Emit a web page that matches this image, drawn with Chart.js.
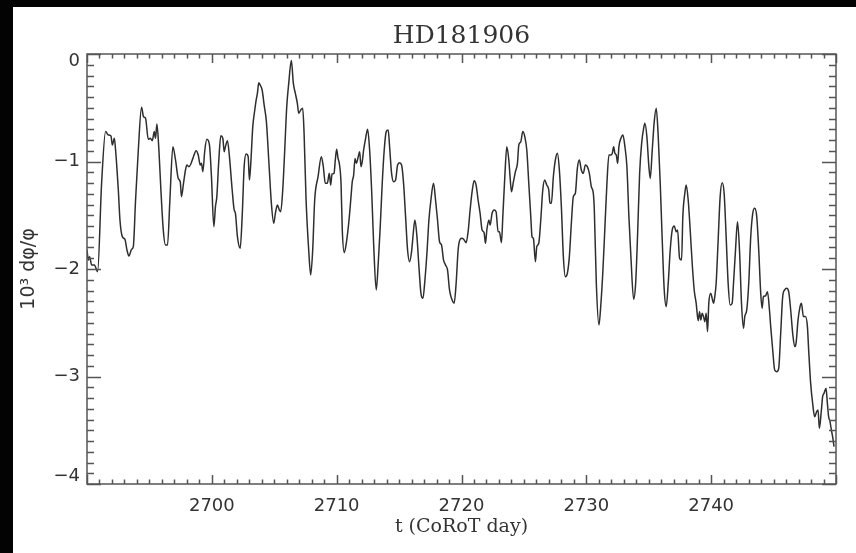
<!DOCTYPE html>
<html>
<head>
<meta charset="utf-8">
<script src="https://cdn.jsdelivr.net/npm/chart.js@4.4.1/dist/chart.umd.min.js"></script>
<style>
  html, body { margin: 0; padding: 0; background: #000; }
  #c { display: block; }
</style>
</head>
<body>
<canvas id="c" width="856" height="553"></canvas>
<script>
// ---- data ----
const days = [
2690.00,2690.11,2690.21,2690.37,2690.59,2690.85,2691.17,2691.49,2691.71,2691.92,
2692.03,2692.19,2692.29,2692.37,2692.51,2692.64,2692.83,2693.04,2693.20,2693.36,
2693.57,2693.71,2693.89,2694.11,2694.37,2694.53,2694.69,2694.91,2695.07,2695.23,
2695.39,2695.49,2695.60,2695.76,2695.92,2696.11,2696.29,2696.45,2696.64,2696.88,
2697.09,2697.31,2697.47,2697.57,2697.73,2697.89,2698.00,2698.16,2698.32,2698.48,
2698.75,2698.91,2699.07,2699.17,2699.28,2699.44,2699.60,2699.81,2699.97,2700.16,
2700.29,2700.40,2700.56,2700.72,2700.88,2700.99,2701.09,2701.25,2701.41,2701.63,
2701.79,2701.89,2702.05,2702.27,2702.43,2702.59,2702.75,2702.91,2703.01,2703.12,
2703.28,2703.44,2703.55,2703.65,2703.76,2703.87,2704.03,2704.19,2704.37,2704.56,
2704.77,2704.96,2705.09,2705.25,2705.41,2705.52,2705.68,2705.84,2706.00,2706.16,
2706.37,2706.53,2706.69,2706.85,2706.96,2707.12,2707.28,2707.39,2707.55,2707.76,
2707.92,2708.08,2708.24,2708.51,2708.77,2708.93,2709.09,2709.25,2709.41,2709.52,
2709.63,2709.79,2709.89,2710.00,2710.11,2710.21,
2710.35,2710.45,2710.61,2710.77,2710.99,2711.15,2711.25,2711.36,2711.47,2711.57,
2711.73,2711.84,2711.95,2712.05,2712.16,2712.32,2712.48,2712.64,2712.80,2712.96,
2713.17,2713.33,2713.49,2713.65,2713.81,2713.97,2714.13,2714.24,2714.40,2714.56,
2714.72,2714.88,2715.04,2715.20,2715.36,2715.52,2715.68,2715.84,2716.00,2716.16,
2716.27,2716.43,2716.59,2716.75,2716.91,2717.07,2717.23,2717.39,2717.55,2717.76,
2717.92,2718.08,2718.24,2718.40,2718.56,2718.72,2718.88,2719.04,2719.20,2719.41,
2719.57,2719.73,2719.89,2720.05,2720.21,2720.37,2720.53,2720.69,2720.85,2721.01,
2721.17,2721.33,2721.49,2721.65,2721.81,2721.92,2722.03,2722.19,2722.29,2722.45,
2722.61,2722.77,2722.93,2723.04,2723.20,2723.31,2723.47,2723.63,2723.79,2723.89,
2724.00,2724.16,2724.32,2724.48,2724.59,2724.75,2724.91,2725.07,2725.23,2725.39,
2725.55,2725.65,2725.76,2725.92,2726.03,2726.19,2726.35,2726.51,2726.67,2726.83,
2726.99,2727.09,2727.20,2727.36,2727.52,2727.68,2727.84,2728.00,2728.16,2728.32,
2728.48,2728.64,2728.80,2728.96,2729.12,2729.28,2729.44,2729.60,2729.76,2729.92,
2730.08,2730.24,2730.40,2730.56,
2730.64,2730.80,2731.01,2731.17,2731.33,2731.49,2731.65,2731.81,2731.97,2732.08,
2732.19,2732.29,2732.40,2732.51,2732.61,2732.77,2732.93,2733.09,2733.25,2733.41,
2733.57,2733.79,2733.95,2734.11,2734.27,2734.43,2734.59,2734.69,2734.85,2735.01,
2735.12,2735.28,2735.44,2735.60,2735.76,2735.92,2736.08,2736.24,2736.40,2736.56,
2736.72,2736.88,2737.04,2737.20,2737.31,2737.47,2737.63,2737.73,2737.89,2738.00,
2738.16,2738.32,2738.48,2738.64,2738.80,2738.96,2739.07,2739.17,2739.28,2739.39,
2739.49,2739.60,2739.71,2739.81,2739.97,2740.08,2740.19,2740.29,2740.40,2740.56,
2740.72,2740.88,2741.04,2741.20,2741.36,2741.52,2741.68,2741.79,2741.95,2742.11,
2742.27,2742.43,2742.59,2742.69,2742.85,2743.01,2743.17,2743.33,2743.49,2743.65,
2743.81,2743.97,2744.08,2744.19,2744.35,2744.51,2744.67,2744.77,2744.93,2745.09,
2745.25,2745.41,2745.57,2745.73,2745.89,2746.05,2746.21,2746.37,2746.53,2746.69,
2746.80,2746.96,2747.12,2747.23,2747.39,2747.55,2747.71,2747.81,2747.97,2748.13,
2748.29,2748.45,2748.56,2748.67,2748.83,2748.93,2749.04,2749.20,2749.31,2749.41,
2749.52,2749.63,2749.73,2749.84
];
const dphi = [
-1.823,-1.916,-1.885,-1.963,-1.963,-2.025,-1.203,-0.722,-0.753,-0.763,
-0.847,-0.784,-0.893,-1.017,-1.265,-1.544,-1.699,-1.724,-1.823,-1.879,
-1.817,-1.792,-1.358,-0.893,-0.496,-0.583,-0.598,-0.794,-0.784,-0.806,
-0.722,-0.784,-0.651,-0.893,-1.265,-1.637,-1.777,-1.777,-1.358,-0.862,
-0.986,-1.157,-1.188,-1.327,-1.203,-1.079,-1.033,-1.048,-1.023,-0.971,
-0.899,-0.940,-1.033,-1.017,-1.095,-0.893,-0.794,-0.847,-1.141,-1.606,
-1.420,-1.327,-0.986,-0.760,-0.784,-0.909,-0.862,-0.806,-0.955,-1.265,
-1.451,-1.482,-1.699,-1.808,-1.513,-1.048,-0.930,-0.955,-1.172,-1.017,
-0.676,-0.521,-0.428,-0.366,-0.267,-0.288,-0.335,-0.474,-0.629,-0.986,
-1.389,-1.575,-1.482,-1.405,-1.451,-1.467,-1.265,-0.893,-0.490,-0.273,
-0.060,-0.273,-0.366,-0.459,-0.552,-0.521,-0.505,-0.738,-1.358,-1.823,
-2.056,-1.823,-1.358,-1.141,-0.955,-1.048,-1.203,-1.203,-1.110,-1.219,
-1.116,-1.110,-0.986,-0.887,-0.971,-1.017,
-1.203,-1.637,-1.848,-1.761,-1.544,-1.327,-1.188,-1.126,-0.971,-1.017,
-0.955,-0.909,-1.048,-1.002,-0.893,-0.784,-0.701,-0.893,-1.265,-1.761,
-2.195,-1.947,-1.606,-1.203,-0.893,-0.722,-0.707,-0.862,-1.110,-1.188,
-1.172,-1.033,-1.011,-1.033,-1.203,-1.513,-1.823,-1.932,-1.839,-1.637,
-1.544,-1.699,-1.978,-2.226,-2.273,-2.102,-1.854,-1.544,-1.358,-1.203,
-1.358,-1.544,-1.746,-1.777,-1.916,-1.963,-2.009,-2.195,-2.273,-2.319,
-2.133,-1.823,-1.724,-1.715,-1.730,-1.755,-1.653,-1.451,-1.281,-1.178,
-1.219,-1.358,-1.482,-1.637,-1.662,-1.761,-1.637,-1.544,-1.591,-1.482,
-1.451,-1.467,-1.653,-1.653,-1.755,-1.513,-1.141,-0.862,-0.986,-1.141,
-1.281,-1.188,-1.095,-1.017,-0.847,-0.816,-0.722,-0.769,-0.893,-1.203,
-1.513,-1.699,-1.715,-1.932,-1.792,-1.761,-1.544,-1.265,-1.172,-1.219,
-1.265,-1.389,-1.389,-1.141,-0.986,-0.924,-1.079,-1.420,-1.885,-2.071,
-2.040,-1.885,-1.575,-1.327,-1.296,-1.064,-0.986,-1.079,-1.110,-1.033,
-1.048,-1.110,-1.234,-1.296,
-1.451,-2.133,-2.521,-2.319,-2.009,-1.606,-1.203,-0.940,-0.940,-0.924,
-0.862,-0.924,-0.940,-1.017,-0.862,-0.784,-0.753,-0.862,-1.048,-1.513,
-1.885,-2.282,-2.133,-1.668,-1.110,-0.831,-0.691,-0.645,-0.769,-1.048,
-1.157,-0.893,-0.629,-0.505,-0.769,-1.203,-1.730,-2.195,-2.350,-2.133,
-1.823,-1.637,-1.600,-1.653,-1.637,-1.901,-1.916,-1.513,-1.296,-1.219,
-1.358,-1.637,-1.947,-2.195,-2.319,-2.481,-2.397,-2.474,-2.412,-2.443,
-2.490,-2.412,-2.583,-2.319,-2.226,-2.273,-2.319,-2.257,-2.133,-1.730,
-1.327,-1.197,-1.296,-1.699,-2.133,-2.335,-2.319,-2.133,-1.823,-1.560,
-1.823,-2.319,-2.552,-2.443,-2.381,-2.133,-1.699,-1.482,-1.436,-1.513,
-1.823,-2.226,-2.366,-2.257,-2.251,-2.211,-2.381,-2.536,-2.753,-2.940,
-2.955,-2.924,-2.598,-2.257,-2.195,-2.180,-2.211,-2.381,-2.598,-2.722,
-2.691,-2.474,-2.350,-2.319,-2.443,-2.443,-2.536,-2.753,-3.064,-3.250,
-3.374,-3.327,-3.312,-3.482,-3.312,-3.188,-3.157,-3.110,-3.250,-3.374,
-3.420,-3.498,-3.560,-3.653
];
const xTickValues = [2700, 2710, 2720, 2730, 2740];
const xTickLabels = ['2700', '2710', '2720', '2730', '2740'];
const yTickValues = [0, -1, -2, -3, -4];
const yTickLabels = ['0', '\u22121', '\u22122', '\u22123', '\u22124'];
const titleText = 'HD181906';
const xTitle = 't (CoRoT day)';
const yTitle = '10\u00B3 d\u03C6/\u03C6';

const points = days.map((d, i) => ({ x: d, y: dphi[i] }));

const background = {
  id: 'background',
  beforeDraw(chart) {
    const ctx = chart.ctx;
    ctx.save();
    ctx.fillStyle = '#030303';
    ctx.fillRect(0, 0, chart.width, chart.height);
    ctx.fillStyle = '#ffffff';
    ctx.fillRect(13, 7, chart.width - 13, chart.height - 7);
    ctx.restore();
  }
};

const frame = {
  id: 'frame',
  afterDatasetsDraw(chart) {
    const { ctx, chartArea: a, scales: { x, y } } = chart;
    ctx.save();
    ctx.strokeStyle = '#555';
    ctx.lineWidth = 1.5;
    ctx.beginPath();
    for (let v = Math.ceil(x.min); v <= x.max; v += 1) {
      const px = Math.round(x.getPixelForValue(v)) + 0.5;
      const len = (v % 10 === 0) ? 9 : 4.5;
      ctx.moveTo(px, a.bottom); ctx.lineTo(px, a.bottom - len);
      ctx.moveTo(px, a.top); ctx.lineTo(px, a.top + len);
    }
    for (let k = Math.round(y.min * 10); k <= Math.round(y.max * 10); k++) {
      const py = Math.round(y.getPixelForValue(k / 10)) + 0.5;
      const len = (k % 10 === 0) ? 14 : 7;
      ctx.moveTo(a.left, py); ctx.lineTo(a.left + len, py);
      ctx.moveTo(a.right, py); ctx.lineTo(a.right - len, py);
    }
    ctx.stroke();
    ctx.strokeRect(a.left, a.top, a.right - a.left, a.bottom - a.top);
    ctx.restore();
  }
};

new Chart(document.getElementById('c'), {
  type: 'line',
  data: {
    datasets: [{
      data: points,
      borderColor: '#2e2e2e',
      borderWidth: 1.5,
      pointRadius: 0,
      cubicInterpolationMode: 'monotone',
      fill: false
    }]
  },
  options: {
    responsive: false,
    animation: false,
    devicePixelRatio: 1,
    layout: { padding: { left: 0, right: 20, top: 0, bottom: 0 } },
    plugins: {
      legend: { display: false },
      tooltip: { enabled: false },
      title: {
        display: true,
        text: titleText,
        fullSize: false,
        color: '#333',
        font: { family: 'DejaVu Serif', size: 25, weight: 'normal' },
        padding: { top: 21, bottom: 3 }
      }
    },
    scales: {
      x: {
        type: 'linear',
        min: 2690,
        max: 2750,
        grid: { display: false, drawTicks: false },
        border: { display: false },
        afterBuildTicks(scale) { scale.ticks = xTickValues.map(v => ({ value: v })); },
        afterFit(scale) { scale.height = 69; },
        ticks: {
          padding: 12,
          color: '#333',
          maxRotation: 0,
          font: { family: 'DejaVu Sans', size: 18 },
          callback: (v) => { const i = xTickValues.indexOf(v); return i >= 0 ? xTickLabels[i] : ''; }
        },
        title: {
          display: true,
          text: xTitle,
          color: '#333',
          font: { family: 'DejaVu Serif', size: 19 },
          padding: { top: 0, bottom: 15 }
        }
      },
      y: {
        type: 'linear',
        min: -4,
        max: 0,
        grid: { display: false, drawTicks: false },
        border: { display: false },
        afterBuildTicks(scale) { scale.ticks = yTickValues.map(v => ({ value: v })); },
        afterFit(scale) { scale.width = 87; },
        ticks: {
          padding: 7,
          color: '#333',
          font: { family: 'DejaVu Sans', size: 18, lineHeight: 0.85 },
          callback: (v) => {
            const i = yTickValues.indexOf(v);
            if (i < 0) return '';
            if (i === 0) return ['', yTickLabels[i]];
            if (i === yTickValues.length - 1) return [yTickLabels[i], ''];
            return yTickLabels[i];
          }
        },
        title: {
          display: true,
          text: yTitle,
          color: '#333',
          font: { family: 'DejaVu Sans', size: 19 },
          padding: { top: 18, bottom: 0 }
        }
      }
    }
  },
  plugins: [background, frame]
});
</script>
</body>
</html>
